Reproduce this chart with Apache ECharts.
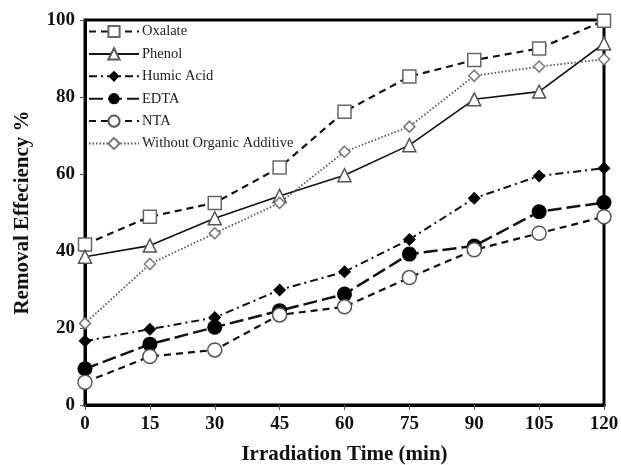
<!DOCTYPE html>
<html><head><meta charset="utf-8">
<script src="https://cdn.jsdelivr.net/npm/echarts@6/dist/echarts.min.js"></script>
<style>html,body{margin:0;padding:0;background:#fff}#c{width:621px;height:465px}</style>
</head><body><div id="c"></div>
<script>
var times = [0, 15, 30, 45, 60, 75, 90, 105, 120];
var oxalate = [41.7, 48.9, 52.5, 61.7, 76.2, 85.3, 89.6, 92.6, 99.8];
var phenol = [38.5, 41.4, 48.5, 54.3, 59.7, 67.5, 79.4, 81.4, 93.9];
var humic = [16.6, 19.7, 22.7, 29.9, 34.6, 43.0, 53.7, 59.5, 61.5];
var edta = [9.4, 15.8, 20.2, 24.5, 28.8, 39.2, 41.3, 50.2, 52.6];
var nta = [5.9, 12.6, 14.3, 23.4, 25.5, 33.1, 40.3, 44.6, 48.9];
var without = [21.2, 36.6, 44.6, 52.5, 65.8, 72.3, 85.5, 87.9, 89.8];
var names = ['Oxalate', 'Phenol', 'Humic Acid', 'EDTA', 'NTA', 'Without Organic Additive'];

function pts(arr){ return times.map(function(t,i){ return [t, arr[i]]; }); }

var chart = echarts.init(document.getElementById('c'));
var serif = '"Liberation Serif", "Times New Roman", serif';
chart.setOption({
  animation: false,
  grid: {left: 85, right: 17, top: 20, bottom: 60, show: true, borderColor: '#000', borderWidth: 3,
         containLabel: false, outerBoundsMode: 'none'},
  legend: {
    show: true, orient: 'vertical', left: 83, top: 19, itemGap: 7.4, itemWidth: 50, itemHeight: 14,
    textStyle: {fontFamily: serif, fontSize: 14.5, color: '#222', padding: [0, 0, 0, -2]},
    data: names
  },
  xAxis: {
    type: 'value', min: 0, max: 120, interval: 15,
    name: 'Irradiation Time (min)', nameLocation: 'middle', nameGap: 39,
    nameTextStyle: {fontFamily: serif, fontSize: 21, fontWeight: 'bold', color: '#111'},
    axisLine: {show: true, lineStyle: {color: '#000', width: 3}},
    axisTick: {show: true, inside: false, length: 5, lineStyle: {color: '#555', width: 1}},
    axisLabel: {fontFamily: serif, fontSize: 19, fontWeight: 'bold', color: '#111', margin: 10},
    splitLine: {show: false}
  },
  yAxis: {
    type: 'value', min: 0, max: 100, interval: 20,
    name: 'Removal Effeciency %', nameLocation: 'middle', nameGap: 52,
    nameTextStyle: {fontFamily: serif, fontSize: 21, fontWeight: 'bold', color: '#111'},
    axisLine: {show: true, lineStyle: {color: '#000', width: 3}},
    axisTick: {show: true, inside: false, length: 5, lineStyle: {color: '#555', width: 1}},
    axisLabel: {fontFamily: serif, fontSize: 19, fontWeight: 'bold', color: '#111', margin: 10},
    splitLine: {show: false}
  },
  series: [
    {name: names[0], type: 'line', data: pts(oxalate), symbol: 'rect', symbolSize: 13,
     itemStyle: {color: '#fff', borderColor: '#666', borderWidth: 1.5},
     lineStyle: {color: '#111', width: 2.2, type: [7, 5]}, z: 3},
    {name: names[1], type: 'line', data: pts(phenol), symbol: 'triangle', symbolSize: 13,
     itemStyle: {color: '#fff', borderColor: '#555', borderWidth: 1.5},
     lineStyle: {color: '#111', width: 1.6, type: 'solid'}, z: 3},
    {name: names[2], type: 'line', data: pts(humic), symbol: 'diamond', symbolSize: 13,
     itemStyle: {color: '#000', borderColor: '#000', borderWidth: 0},
     lineStyle: {color: '#111', width: 2, type: [8, 4, 2, 4]}, z: 3},
    {name: names[3], type: 'line', data: pts(edta), symbol: 'circle', symbolSize: 15,
     itemStyle: {color: '#000', borderColor: '#000', borderWidth: 0},
     lineStyle: {color: '#111', width: 2.5, type: [14, 5]}, z: 3},
    {name: names[4], type: 'line', data: pts(nta), symbol: 'circle', symbolSize: 14,
     itemStyle: {color: '#fff', borderColor: '#555', borderWidth: 1.5},
     lineStyle: {color: '#111', width: 2.2, type: [7, 5]}, z: 3},
    {name: names[5], type: 'line', data: pts(without), symbol: 'diamond', symbolSize: 11,
     itemStyle: {color: '#fff', borderColor: '#777', borderWidth: 1.5},
     lineStyle: {color: '#555', width: 1.8, type: [1.5, 2]}, z: 3}
  ]
});
</script>
</body></html>
